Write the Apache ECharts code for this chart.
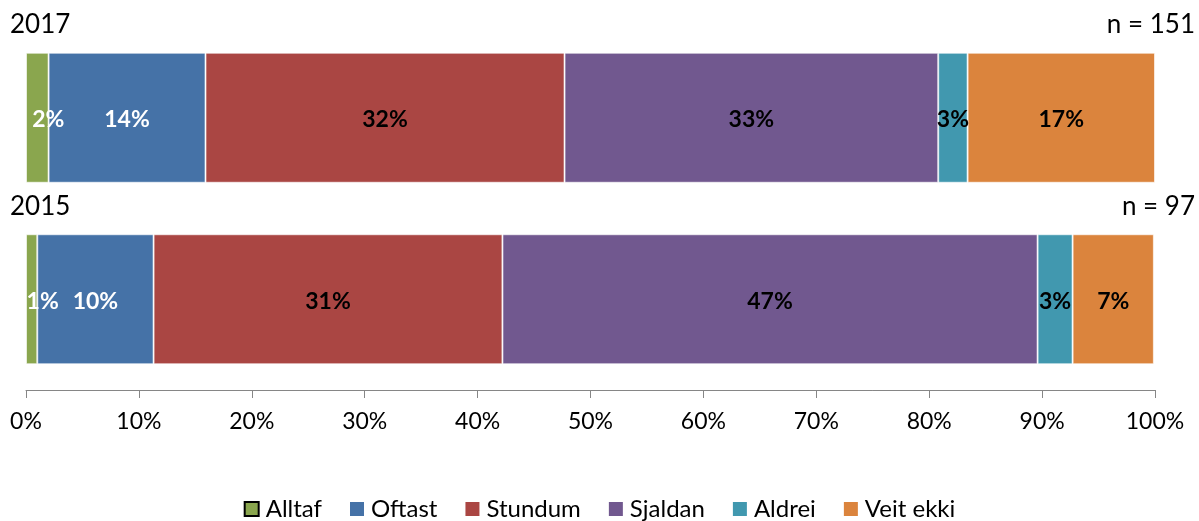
<!DOCTYPE html>
<html>
<head>
<meta charset="utf-8">
<script src="https://cdn.jsdelivr.net/npm/echarts@6/dist/echarts.min.js"></script>
<style>
  html, body { margin: 0; padding: 0; background: #fff; }
  #chart { width: 1199px; height: 521px; }
</style>
</head>
<body>
<div id="chart"></div>
<script>
// years shown top to bottom, with sample sizes
const years = ['2017', '2015'];
const sampleSizes = ['n = 151', 'n = 97'];

const answers = ['Alltaf', 'Oftast', 'Stundum', 'Sjaldan', 'Aldrei', 'Veit ekki'];
const colors = ['#8aa64e', '#4572a7', '#aa4643', '#71588f', '#4198af', '#db843d'];
const labelColors = ['#fff', '#fff', '#000', '#000', '#000', '#000'];

// percent per answer, [2017, 2015]
const alltaf = [2.0, 1.0];
const oftast = [13.9, 10.3];
const stundum = [31.8, 30.9];
const sjaldan = [33.1, 47.4];
const aldrei = [2.6, 3.1];
const veitEkki = [16.6, 7.2];
const values = [alltaf, oftast, stundum, sjaldan, aldrei, veitEkki];

const font = 'Lato, "Open Sans", sans-serif';

const chart = echarts.init(document.getElementById('chart'));

const series = answers.map((name, i) => ({
    name: name,
    type: 'bar',
    stack: 'total',
    barWidth: 130,
    data: values[i],
    itemStyle: {color: colors[i], borderColor: 'rgba(255,255,255,0.6)', borderWidth: 1},
    label: {
        show: true,
        position: 'inside',
        // the thin first segment has its label pushed right, as excel does
        offset: i === 0 ? [11, 2] : [0, 2],
        formatter: p => Math.round(p.value) + '%',
        color: labelColors[i],
        fontFamily: font,
        fontWeight: 'bold',
        fontSize: 23,
    },
    emphasis: {disabled: true},
}));

// year labels on the left and n labels on the right, above each bar
const textEls = [];
years.forEach((y, i) => {
    const top = 12 + i * 182;
    textEls.push({type: 'text', left: 10, top: top,
        style: {text: y, font: '26px ' + font, fill: '#000'}});
    textEls.push({type: 'text', right: 4, top: top,
        style: {text: sampleSizes[i], font: '26px ' + font, fill: '#000'}});
});

chart.setOption({
    animation: false,
    grid: {left: 26, right: 44, top: 27, bottom: 131},
    legend: {
        top: 492,
        left: 'center',
        itemWidth: 14,
        itemHeight: 14,
        itemGap: 28,
        icon: 'rect',
        textStyle: {fontFamily: font, fontSize: 24, color: '#000', padding: [0, 0, 0, 2]},
        data: answers.map((a, i) => i === 0
            ? {name: a, itemStyle: {borderColor: '#000', borderWidth: 2}}
            : {name: a, itemStyle: {borderWidth: 0}}),
    },
    xAxis: {
        type: 'value',
        min: 0,
        max: 100,
        interval: 10,
        axisLine: {show: true, lineStyle: {color: '#868686', width: 1}},
        axisTick: {show: true, length: 8, lineStyle: {color: '#868686'}},
        splitLine: {show: false},
        axisLabel: {formatter: '{value}%', fontFamily: font, fontSize: 23, color: '#000', margin: 20},
    },
    yAxis: {
        type: 'category',
        data: years,
        inverse: true,
        axisLine: {show: false},
        axisTick: {show: false},
        axisLabel: {show: false},
    },
    graphic: textEls,
    series: series,
});
</script>
</body>
</html>
